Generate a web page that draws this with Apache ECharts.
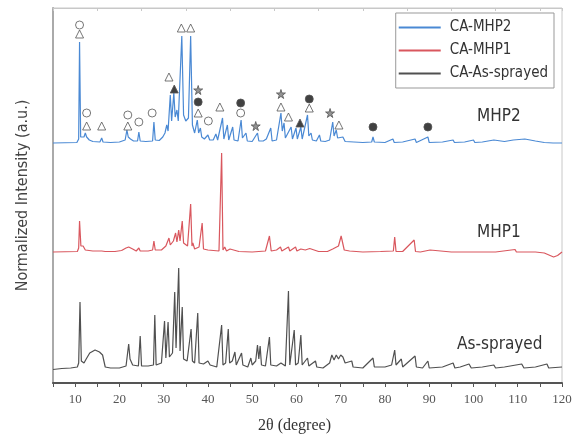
<!DOCTYPE html>
<html>
<head>
<meta charset="utf-8">
<script src="https://cdn.jsdelivr.net/npm/echarts@6/dist/echarts.min.js"></script>
<style>
  html, body { margin: 0; padding: 0; background: #fff; }
  #chart { width: 575px; height: 441px; }
</style>
</head>
<body>
<div id="chart"></div>
<script>
// stacked patterns, values are already offset (a.u.)
const mhp2 = [[5,240],[10.4,240.5],[10.8,244],[11.0,341],[11.25,246],[11.6,244],[12.0,246],[12.3,250],[12.6,246],[13.2,243],[14,241.5],[15.6,241],[16.0,245],[16.3,241],[18,240.5],[20,241],[21.3,243],[21.7,253],[22.0,246],[22.5,244],[23.2,242],[24.1,242],[24.4,251],[24.7,242],[26,241.5],[27.5,242],[27.8,261],[28.1,243],[29,242.5],[29.8,246],[30.3,250],[30.7,258],[31.0,252],[31.5,288],[31.8,262],[32.3,290],[32.6,266],[33.0,273],[33.3,262],[33.7,264],[34.1,347],[34.5,268],[35.0,262],[35.6,265],[36.1,347],[36.5,258],[37.0,250],[37.6,263],[37.9,250],[38.3,255],[38.6,246],[39.2,244],[40.0,248],[40.4,243],[41.2,243],[41.8,249],[42.2,243],[43.3,265],[43.6,244],[44.4,258],[44.7,243],[45.6,256],[45.9,243],[46.8,242],[47.5,263],[47.8,245],[48.6,250],[48.9,242],[50,241.5],[51.2,250],[51.5,242],[52.5,242],[53.2,244],[53.5,242],[54.2,255],[54.5,242],[55.5,243],[56.5,270],[56.8,252],[57.2,260],[57.5,245],[58.8,256],[59.1,244],[59.9,255],[60.2,244],[61.0,256],[61.3,244],[62.5,268],[62.8,247],[63.3,250],[63.6,243],[64.5,242],[65.2,248],[65.5,242],[66.5,241.5],[67.5,243],[68.2,261],[68.5,247],[69.0,253],[69.3,245],[70.5,246],[71,241.5],[73,241],[75,240.5],[77.0,241],[77.3,246],[77.6,241],[80,240.5],[81.8,244],[82.1,240.5],[84,241],[86.8,244],[87.1,240.5],[89.7,246],[90.0,240.5],[93,241],[95.4,243],[95.7,240.5],[98,241],[100,243],[100.3,240.5],[102,241],[104.6,243],[105,241],[107,241.5],[109,243],[111.6,244],[114,242],[116,240.5],[118,240],[120,240]]

const mhp1 = [[5,131],[10.5,131.5],[10.8,135],[11.0,162],[11.3,137],[11.8,137],[12.3,133],[14,132],[16.0,132],[16.4,134],[16.8,131.5],[19,131.5],[20.5,132.5],[21.5,135],[22.1,136],[23,134],[23.8,132],[24.4,135],[24.7,132],[26.5,132],[27.5,133],[27.8,142],[28.1,133],[29.5,133],[30.5,137],[31.2,145],[31.5,138],[32.2,142],[32.7,150],[33.0,141],[33.4,153],[33.7,142],[34.2,162],[34.5,140],[35.4,137],[36.1,179],[36.4,137],[36.6,140],[37.0,134],[38.0,136],[38.7,160],[39.0,134],[40,133],[42.5,132],[43.1,230],[43.4,133],[43.8,136],[44.2,132],[45.0,134],[45.4,132],[47,131.5],[50,131],[53,132],[53.9,147],[54.3,132],[55.5,133],[56.4,136],[56.7,132],[58.2,136],[58.5,132],[59.8,136],[60.1,132],[61,134],[62,133],[63,134.5],[64,133],[65,131.5],[67,131.5],[68.2,134],[69.5,137],[70.1,147],[70.5,145],[70.8,133],[72,132],[75,131],[79,131.5],[81.9,132],[82.2,146],[82.5,131.5],[84,131.5],[86.6,143],[86.9,131.5],[88,131],[90.2,133],[90.5,131],[95,131],[100,131],[105,131],[109.4,133.5],[109.7,131],[114,131],[116,130],[118.1,126],[119,127.5],[120,131]]

const asSprayed = [[5,13.5],[7,14.5],[9,15],[10.5,16],[10.8,20],[11.1,81],[11.4,22],[12,20],[12.5,24],[13.3,30],[14.5,33],[15.5,31],[16.2,28],[16.8,16],[18,15],[20,15],[21.5,17],[22.1,39],[22.4,24],[23,18],[24.3,17],[24.7,47],[25.0,17],[26.5,17],[27.7,18],[28.0,68],[28.3,18],[29.5,20],[30.2,62],[30.5,25],[31.0,61],[31.3,26],[32.0,30],[32.5,91],[32.8,35],[33.4,115],[33.7,32],[34.2,76],[34.5,24],[35.3,22],[36.2,54],[36.5,22],[37.0,20],[37.7,70],[38.0,20],[39,19],[40,22],[40.5,18],[42,16],[43.1,58],[43.4,18],[44.0,20],[44.6,54],[44.9,20],[45.5,22],[46.1,31],[46.4,18],[47.6,30],[47.9,18],[49.0,16],[49.7,25],[50.0,18],[50.8,22],[51.2,38],[51.5,24],[51.8,37],[52.1,18],[53.0,17],[53.9,46],[54.2,18],[55.5,17],[56.5,20],[57.5,17],[58.2,92],[58.5,18],[59.5,53],[59.8,18],[60.4,20],[61.0,48],[61.3,18],[62.5,25],[62.8,17],[64.3,22],[64.6,16],[66,15],[67.5,20],[68.0,28],[68.5,23],[69.0,28],[69.5,24],[70.0,28],[70.5,26],[71,20],[72.5,22],[72.8,16],[75,15],[77.3,25],[77.6,16],[80,16],[81.5,18],[82.2,33],[82.5,18],[83.7,24],[84,16],[86.8,27],[87.1,16],[88.5,15],[89.7,22],[90,15],[93,16],[95.4,20],[95.8,15],[97,16],[99,19],[99.5,15],[102,16],[104.6,18],[105,15],[107,16],[110.9,19],[111.4,15],[114,16],[116.6,19],[117,15],[120,16]]

// phase markers above the MHP2 peaks
const openCircle = [[11.0,358],[12.6,270],[21.9,268],[24.4,261],[27.4,270],[40.1,262],[47.4,270]]
const openTriangle = [[11.0,349],[12.6,257],[16.0,257],[21.9,257],[31.2,306],[34.0,355],[36.1,355],[37.8,270],[42.7,276],[56.5,276],[58.2,266],[62.9,275],[69.6,258]]
const filledTriangle = [[32.4,294],[60.8,260]]
const star = [[37.8,293],[50.8,257],[56.5,289],[67.6,270]]
const filledCircle = [[37.8,281],[47.4,280],[62.9,284],[77.3,256],[89.7,256]]

const names = ['CA-MHP2', 'CA-MHP1', 'CA-As-sprayed']
const colors = ['#4a89d4', '#d9575e', '#505050']

const narrow = '"Liberation Sans Narrow", "DejaVu Sans Condensed", sans-serif'
const serif = '"Liberation Serif", "DejaVu Serif", serif'
const starPath = 'path://M50,0 L61,35 L98,35 L68,57 L79,91 L50,70 L21,91 L32,57 L2,35 L39,35 Z'

const chart = echarts.init(document.getElementById('chart'))

function lineSeries(i, data) {
  return {
    name: names[i],
    type: 'line',
    data: data,
    showSymbol: false,
    z: 3,
    lineStyle: { width: 1.2, color: colors[i] },
    itemStyle: { color: colors[i] }
  }
}

function markerSeries(data, symbol, fill, size) {
  return {
    type: 'scatter',
    data: data,
    symbol: symbol,
    symbolSize: size,
    z: 5,
    silent: true,
    itemStyle: { color: fill, borderColor: '#555', borderWidth: 1 }
  }
}

chart.setOption({
  animation: false,
  grid: {
    left: 53, right: 13, top: 8, bottom: 58,
    show: true, borderColor: '#c8c8c8', borderWidth: 1
  },
  legend: {
    data: names,
    orient: 'vertical',
    right: 21, top: 13,
    icon: 'rect',
    itemWidth: 42, itemHeight: 2,
    itemGap: 8,
    padding: [7, 6, 7, 3],
    borderColor: '#999', borderWidth: 1,
    backgroundColor: '#fff',
    textStyle: { fontFamily: narrow, fontSize: 15, color: '#333', padding: [0, 0, 0, 4] }
  },
  xAxis: [
    {
      type: 'value',
      min: 5, max: 120, interval: 5,
      position: 'bottom',
      axisLine: { lineStyle: { color: '#555', width: 2 } },
      axisTick: { length: 4, lineStyle: { color: '#555' } },
      splitLine: { show: false },
      axisLabel: {
        margin: 10,
        fontFamily: serif, fontSize: 13, color: '#555',
        formatter: v => (v % 10 === 0 ? String(v) : '')
      },
      name: '2θ (degree)',
      nameLocation: 'middle',
      nameGap: 35,
      nameTextStyle: { fontFamily: serif, fontSize: 16, color: '#333', padding: [0, 26, 0, 0] }
    },
    {
      type: 'value',
      min: 5, max: 120, interval: 10,
      position: 'top',
      axisLine: { lineStyle: { color: '#c8c8c8' } },
      axisTick: { inside: true, length: 3, lineStyle: { color: '#c8c8c8' } },
      axisLabel: { show: false },
      splitLine: { show: false }
    }
  ],
  yAxis: {
    type: 'value',
    min: 0, max: 375,
    axisLine: { show: true, lineStyle: { color: '#aaa', width: 2 } },
    axisTick: { show: false },
    axisLabel: { show: false },
    splitLine: { show: false },
    name: 'Normalized Intensity (a.u.)',
    nameLocation: 'middle',
    nameGap: 22,
    nameTextStyle: { fontFamily: narrow, fontSize: 16, color: '#444' }
  },
  series: [
    lineSeries(0, mhp2),
    lineSeries(1, mhp1),
    lineSeries(2, asSprayed),
    markerSeries(openCircle, 'circle', '#fff', 8),
    markerSeries(openTriangle, 'triangle', '#fff', 8),
    markerSeries(filledTriangle, 'triangle', '#111', 8),
    markerSeries(star, starPath, '#777', 9),
    markerSeries(filledCircle, 'circle', '#111', 8)
  ],
  graphic: [
    { type: 'text', left: 477, top: 108, style: { text: 'MHP2', font: '17px ' + narrow, fill: '#333' } },
    { type: 'text', left: 477, top: 224, style: { text: 'MHP1', font: '17px ' + narrow, fill: '#333' } },
    { type: 'text', left: 457, top: 336, style: { text: 'As-sprayed', font: '17px ' + narrow, fill: '#333' } }
  ]
})
</script>
</body>
</html>
